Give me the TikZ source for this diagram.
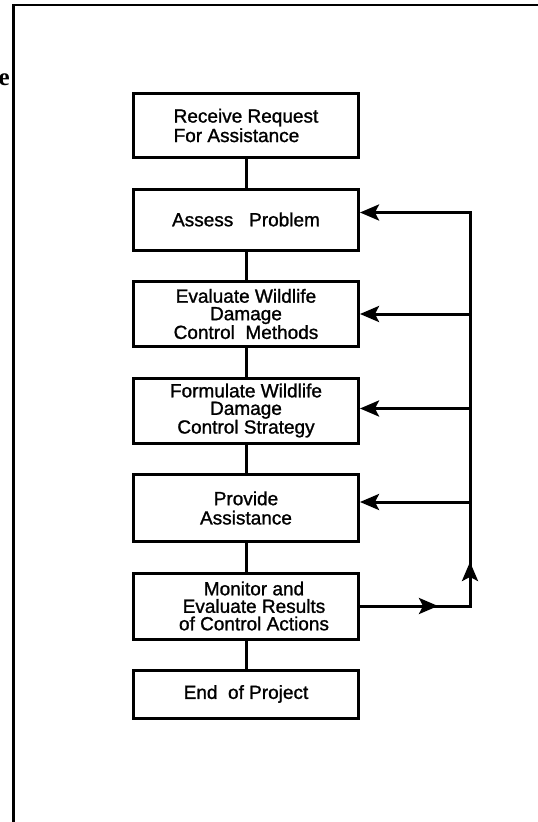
\documentclass[tikz,border=0pt]{standalone}
\usepackage{fontspec}
\setmainfont{Liberation Sans}
\newfontfamily\boxfont[FakeBold=1.2]{Liberation Sans}
\newfontfamily\pagefont{Liberation Serif}
\usetikzlibrary{arrows.meta, positioning}
\tikzstyle{stepbox} = [rectangle, minimum width=225pt, align=center, draw=black, line width=3pt, font=\boxfont\fontsize{19}{17.5}\selectfont]
\tikzstyle{link} = [line width=3pt, line cap=rect]
\tikzstyle{arrow} = [line width=3pt, -{Stealth[length=19pt, width=16pt, inset=4pt]}]

\begin{document}
\begin{tikzpicture}[
				x=1pt, y=-1pt,
				node distance=28.5pt
			]
			\useasboundingbox (0,0) rectangle (538,822);

			% page edge and the cut-off word on the left
			\draw[line width=2.6pt] (538,5) -- (13.7,5) -- (13.7,822);
			\node[anchor=east, inner sep=0pt, font=\pagefont\bfseries\fontsize{25}{25}\selectfont] (cut) at (10,80) {e};

			\node[stepbox, minimum height=64pt, align=left, font=\boxfont\fontsize{19}{19.5}\selectfont] (recv) at (246,125.5) {Receive Request\\For Assistance};
			\node[stepbox, minimum height=61pt, below=of recv] (assess) {Assess\ \ \ Problem};
			\node[stepbox, minimum height=65pt, below=of assess] (methods) {Evaluate Wildlife\\Damage\\Control\ \ Methods};
			\node[stepbox, minimum height=65pt, below=of methods] (strategy) {Formulate Wildlife\\Damage\\Control Strategy};
			\node[stepbox, minimum height=67pt, below=of strategy, font=\boxfont\fontsize{19}{19.3}\selectfont] (provide) {Provide\\Assistance};
			\node[stepbox, minimum height=66pt, below=of provide] (monitor) {\hspace*{16pt}Monitor and\\\hspace*{16pt}Evaluate Results\\\hspace*{16pt}of Control Actions};
			\node[stepbox, minimum height=48pt, below=of monitor] (finish) {\raisebox{5pt}{End\ \ of Project}};

			% steps in order
			\draw[link] (recv) -- (assess);
			\draw[link] (assess) -- (methods);
			\draw[link] (methods) -- (strategy);
			\draw[link] (strategy) -- (provide);
			\draw[link] (provide) -- (monitor);
			\draw[link] (monitor) -- (finish);

			% feedback loop on the right
			\coordinate[right=110pt of monitor.east] (corner);
			\coordinate[left=32pt of corner] (midtip);
			\coordinate[above=44pt of corner] (uptip);
			\foreach \stage/\dy in {assess/7, methods/0, strategy/2, provide/6} {
				\coordinate (in-\stage) at ([yshift=\dy pt]\stage.east);
				\draw[arrow] (in-\stage -| corner) -- (in-\stage);
			}
			\draw[link] (monitor.east) -- (corner) -- (in-assess -| corner);
			\draw[arrow] (monitor.east) -- (midtip);
			\draw[arrow] (corner) -- (uptip);
		\end{tikzpicture}
\end{document}
